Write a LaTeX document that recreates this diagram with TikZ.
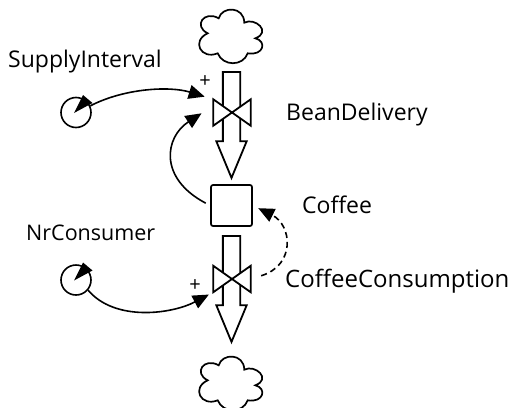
\documentclass[tikz,border=0pt]{standalone}
\usepackage{fontspec}
\setmainfont{Open Sans}
\usetikzlibrary{arrows.meta,shapes.arrows}
\tikzset{
  pipe/.style={draw, line width=1.8pt, fill=white, single arrow, rotate=-90, anchor=tail,
    minimum height=106pt, text height=15.5pt, text depth=0pt, inner sep=0pt,
    single arrow head extend=6.5pt, single arrow tip angle=45},
  valve/.style={minimum width=37pt, minimum height=26pt, inner sep=0pt},
  stock/.style={draw, line width=1.7pt, fill=white, rounded corners=2pt, minimum size=41pt, inner sep=0pt},
  aux/.style={draw, line width=1.6pt, circle, minimum size=30pt, inner sep=0pt},
  link/.style={line width=1.6pt, -{Triangle[length=16pt,width=14pt]}},
  label/.style={font=\fontsize{23}{26}\selectfont, inner sep=0pt},
  sign/.style={font=\fontsize{20}{22}\selectfont, inner sep=0pt},
  puff/.pic={
    \draw[line width=1.7pt, fill=white] (-12.3,-17.7) .. controls (-9,-30) and (13,-30) .. (13.3,-13.3)
      .. controls (24,-19) and (41,-4) .. (24.3,2.3)
      .. controls (36,5) and (33,20) .. (16.7,17.3)
      .. controls (12,30.5) and (-8,30.5) .. (-13.3,17.3)
      .. controls (-30,24) and (-40,5) .. (-23.3,-2.7)
      .. controls (-38,-10) and (-27,-26) .. (-12.3,-17.7) -- cycle;
  }
}
\begin{document}
\begin{tikzpicture}[x=1pt,y=-1pt]
\useasboundingbox (0,0) rectangle (510,407);
% clouds
\pic at (231,36) {puff};
\pic at (231,383) {puff};
% pipes
\node[pipe] (deliverypipe) at (231.5,71) {};
\node[pipe] (consumptionpipe) at (231.5,235) {};
% valves
\node[valve] (deliveryvalve) at (232,112.5) {};
\node[valve] (consumptionvalve) at (232,279) {};
\foreach \v in {deliveryvalve,consumptionvalve}
  \draw[line width=1.8pt, fill=white] (\v.north west) -- (\v.south east) -- (\v.north east) -- (\v.south west) -- cycle;
% stock
\node[stock] (coffee) at (231.5,205.5) {};
% converters
\node[aux] (supply) at (76,112.5) {};
\node[aux] (consumer) at (76,280) {};
\foreach \c in {supply,consumer}
  \fill (\c) ++(-2,0.5) -- ++(9,-18) -- ++(9.5,8) -- cycle;
% labels
\node[label, anchor=west] (supplylabel) at (8,62) {SupplyInterval};
\node[label, anchor=west] (deliverylabel) at (286,115) {BeanDelivery};
\node[label, anchor=west] (coffeelabel) at (302,205) {Coffee};
\node[label, anchor=west, font=\fontsize{21.5}{26}\selectfont] (consumerlabel) at (26,233) {NrConsumer};
\node[label, anchor=west, font=\fontsize{24}{26}\selectfont] (consumptionlabel) at (285,281) {CoffeeConsumption};
\node[sign] (plusa) at (205,82) {+};
\node[sign] (plusb) at (195,286) {+};
% connectors
\draw[link, shorten >=9pt] (supply.25) .. controls (125,88) and (170,86) .. (deliveryvalve.north west);
\draw[link, shorten >=14pt, shorten <=5pt] (coffee.west) .. controls (158,178) and (165,137) .. (deliveryvalve.160);
\draw[link, dash pattern=on 6pt off 4pt, shorten >=6pt, shorten <=11pt] (consumptionvalve.east) .. controls (296,265) and (292,225) .. (coffee.east);
\draw[link, shorten >=5pt] (consumer.-40) .. controls (115,322) and (172,314) .. (consumptionvalve.south west);
\end{tikzpicture}
\end{document}
